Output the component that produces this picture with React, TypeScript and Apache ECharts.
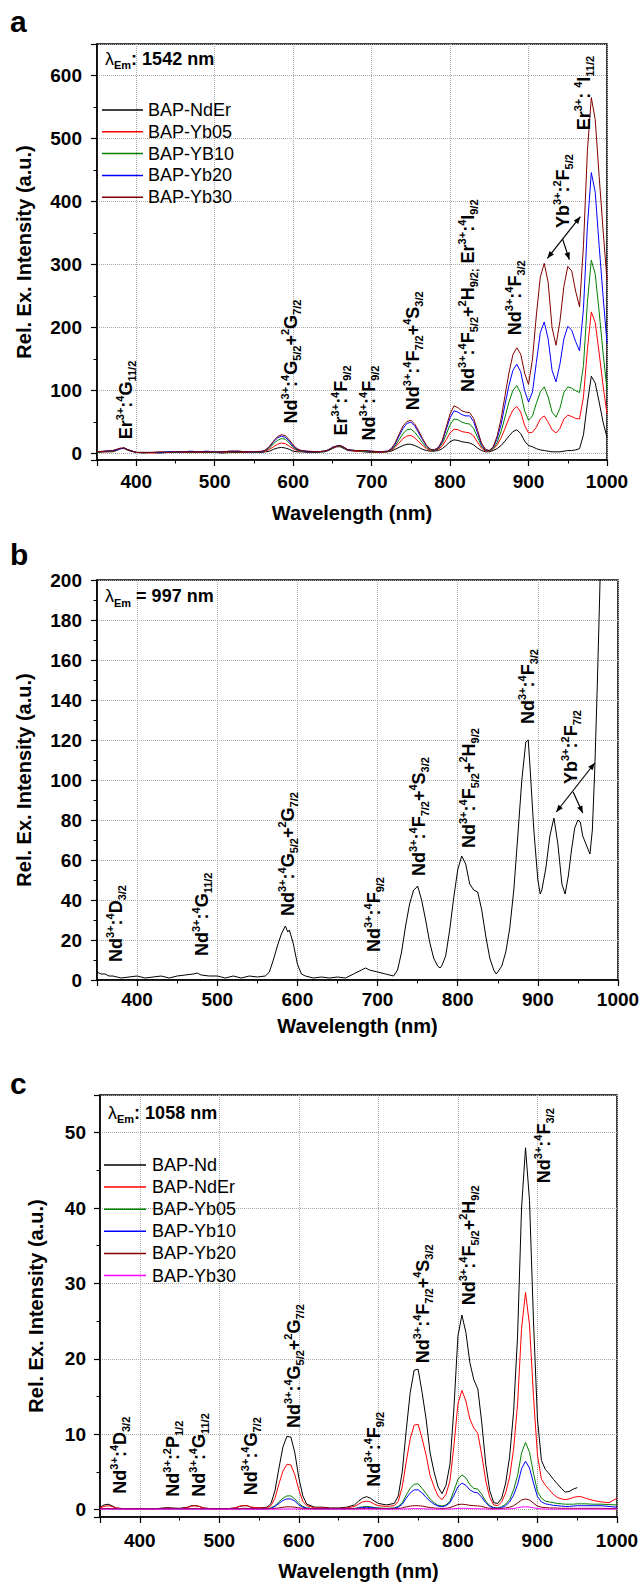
import React, { useEffect, useRef } from 'react';
import * as echarts from 'echarts';

const FONT = "'Liberation Sans', Arial, Helvetica, sans-serif";

// ---------------- Panel a (λEm 1542 nm) ----------------
const WL_A = [
  350, 360, 370, 375, 380, 385, 390,
  400, 410, 420, 430, 440, 450, 460, 470, 480, 490, 500, 510, 520, 530, 540, 550, 560,
  565, 570, 575, 580, 585, 590, 595, 600, 605, 610,
  620, 630, 640, 645, 650, 655, 660, 665, 670, 680, 690, 700, 710, 720,
  725, 730, 735, 740, 745, 750, 755, 760, 765, 770, 775, 780,
  785, 790, 795, 800, 805, 810, 815, 820, 825, 830, 835, 840,
  845, 850, 855, 860, 865, 870, 875, 880, 885, 890, 895, 900,
  905, 910, 915, 920, 925, 930, 935, 940, 945, 950, 955, 960,
  965, 970, 975, 980, 985, 990, 995, 1000,
];
const A_NDER = [
  2, 3, 3, 5, 8, 8, 5,
  2, 1, 2, 1, 2, 2, 2, 2, 2, 2, 2, 1, 2, 2, 2, 2, 2,
  3, 4, 7, 9, 10, 9, 7, 4, 3, 3,
  2, 2, 3, 5, 8, 11, 11, 8, 5, 4, 3, 2, 2, 3,
  4, 7, 10, 13, 15, 15, 13, 10, 7, 5, 4, 4,
  5, 8, 13, 19, 22, 21, 19, 18, 17, 14, 9, 5,
  3, 3, 5, 8, 13, 20, 28, 35, 38, 32, 20, 13,
  11, 8, 6, 5, 4, 3, 3, 3, 4, 5, 5, 6,
  8, 30, 80, 123, 112, 82, 50, 26,
];
const A_YB05 = [
  3, 3, 4, 6, 8, 9, 6,
  2, 2, 1, 2, 2, 3, 2, 3, 2, 3, 2, 2, 3, 3, 2, 2, 3,
  4, 7, 11, 15, 17, 16, 12, 8, 5, 4,
  3, 3, 4, 6, 9, 11, 12, 9, 6, 4, 4, 3, 2, 3,
  5, 10, 17, 24, 28, 29, 25, 19, 13, 8, 5, 5,
  7, 12, 22, 33, 39, 38, 35, 34, 33, 28, 18, 9,
  4, 4, 7, 14, 25, 40, 56, 69, 75, 66, 45, 33,
  34, 42, 55, 60, 50, 38, 33, 40, 55, 61, 59, 56,
  55, 90, 165, 225, 208, 160, 108, 63,
];
const A_YB10 = [
  2, 4, 4, 6, 8, 9, 6,
  2, 2, 2, 2, 3, 2, 3, 3, 3, 3, 2, 3, 3, 3, 3, 2, 3,
  5, 9, 16, 21, 24, 23, 17, 10, 6, 4,
  3, 3, 4, 6, 9, 12, 12, 9, 6, 5, 4, 3, 3, 3,
  6, 12, 22, 32, 38, 39, 34, 26, 17, 10, 6, 5,
  8, 16, 30, 46, 55, 54, 50, 48, 47, 40, 26, 12,
  5, 4, 8, 18, 35, 58, 82, 100, 108, 96, 68, 53,
  60, 80, 98, 106, 90, 66, 58, 72, 97, 106, 104, 100,
  97, 140, 240, 307, 285, 225, 160, 102,
];
const A_YB20 = [
  3, 4, 5, 6, 8, 9, 6,
  2, 2, 2, 2, 3, 3, 3, 4, 3, 4, 3, 3, 4, 4, 3, 3, 3,
  6, 11, 19, 25, 28, 26, 20, 12, 7, 5,
  3, 3, 4, 6, 10, 12, 13, 10, 6, 5, 5, 4, 3, 4,
  7, 15, 28, 40, 48, 50, 44, 33, 22, 12, 7, 6,
  9, 19, 38, 57, 68, 66, 62, 60, 60, 51, 33, 15,
  6, 5, 10, 24, 46, 78, 108, 132, 142, 130, 100, 82,
  98, 145, 192, 209, 182, 132, 114, 142, 182, 202, 196, 178,
  163, 230, 360, 446, 415, 330, 250, 175,
];
const A_YB30 = [
  3, 4, 5, 7, 9, 9, 6,
  2, 2, 2, 3, 2, 3, 3, 3, 3, 3, 3, 3, 4, 4, 3, 3, 4,
  6, 12, 20, 27, 30, 29, 22, 14, 8, 5,
  4, 3, 4, 6, 10, 12, 13, 10, 6, 5, 5, 4, 3, 4,
  8, 17, 31, 44, 51, 53, 47, 36, 24, 13, 7, 6,
  10, 21, 42, 63, 76, 73, 68, 66, 65, 56, 37, 17,
  7, 5, 11, 28, 55, 92, 128, 157, 168, 158, 128, 110,
  150, 220, 280, 302, 272, 200, 172, 210, 265, 297, 290, 258,
  233, 330, 480, 565, 530, 440, 355, 275,
];

// ---------------- Panel b (λEm 997 nm) ----------------
const WL_B = [
  350, 355, 360, 365, 370, 380, 390, 400, 410, 420,
  430, 440, 450, 460, 470, 475, 480, 490, 500, 510,
  520, 530, 540, 550, 560, 565, 570, 575, 580, 585,
  588, 590, 595, 600, 605, 610, 620, 630, 640, 650,
  660, 670, 680, 685, 690, 700, 710, 720, 725, 730,
  735, 740, 745, 748, 750, 755, 760, 765, 770, 775,
  778, 780, 785, 790, 795, 800, 805, 810, 815, 820,
  825, 830, 835, 840, 845, 848, 850, 855, 860, 865,
  870, 875, 880, 885, 888, 890, 895, 900, 903, 905,
  910, 915, 920, 925, 930, 934, 938, 942, 946, 950,
  953, 956, 960, 965, 968, 971, 974, 977, 980, 985,
];
const B_ND = [
  4, 3, 3, 2, 2, 1, 1.5, 2, 1, 1.5,
  2, 1, 2, 2.5, 3, 3.5, 2.5, 2, 2, 1,
  2, 1, 2, 1.5, 2, 4, 10, 17, 23, 27,
  24, 25, 18, 8, 3, 2, 1, 1.5, 1, 1.5,
  1, 3, 5, 6, 5, 4, 3, 2, 5, 14,
  27, 38, 45, 46, 47, 40, 30, 19, 11, 7,
  6, 7, 12, 25, 41, 55, 62, 58, 48, 45,
  44, 35, 22, 11, 5, 3, 4, 7, 14, 26,
  45, 72, 100, 119, 120, 108, 75, 50, 43, 45,
  56, 72, 81, 68, 48, 43, 52, 65, 76, 80,
  79, 72, 68, 63, 75, 105, 145, 190, 240, 320,
];

// ---------------- Panel c (λEm 1058 nm) ----------------
const WL_C = [
  350, 355, 360, 365, 370, 380, 390, 400, 410, 420,
  430, 435, 440, 450, 460, 465, 470, 475, 480, 490,
  500, 510, 520, 525, 530, 535, 540, 550, 560, 565,
  570, 575, 580, 585, 590, 595, 600, 605, 610, 620,
  630, 640, 650, 660, 670, 675, 680, 685, 690, 695,
  700, 710, 720, 725, 730, 735, 740, 745, 750, 755,
  760, 765, 770, 775, 780, 785, 790, 795, 800, 805,
  810, 815, 820, 825, 830, 835, 840, 845, 850, 855,
  860, 865, 870, 875, 880, 885, 890, 895, 900, 905,
  910, 915, 920, 925, 930, 935, 940, 945, 950, 955,
  960, 970, 980, 990, 1000,
];
const C_ND = [
  0.3, 0.6, 0.7, 0.5, 0.2, 0.1, 0.1, 0.1, 0.1, 0.1,
  0.2, 0.25, 0.2, 0.15, 0.3, 0.5, 0.5, 0.4, 0.2, 0.1,
  0.1, 0.1, 0.2, 0.4, 0.5, 0.5, 0.3, 0.2, 0.3, 0.8,
  2.5, 5.5, 8.3, 9.7, 9.6, 7.5, 4.2, 1.8, 0.7, 0.3,
  0.3, 0.2, 0.2, 0.3, 0.6, 1.1, 1.5, 1.7, 1.5, 1.1,
  0.8, 0.6, 0.8, 1.8, 5, 10.5, 15.5, 18.5, 18.6, 15.5,
  12, 7.5, 5, 3, 2.1, 3.2, 6, 13.5, 23, 25.8,
  23.5, 19.5, 17.2, 16, 11.5, 6, 2.5, 0.9, 0.8, 1.5,
  3.5, 7, 13, 23, 40, 48, 41, 25, 12, 6.5,
  5.3, 4.7, 4, 3.4, 2.8, 2.3, 2.4, 2.7, 2.9, null,
  null, null, null, null, null,
];
const C_NDER = [
  0.2, 0.4, 0.5, 0.4, 0.2, 0.1, 0.1, 0.1, 0.1, 0.1,
  0.15, 0.2, 0.15, 0.1, 0.25, 0.45, 0.5, 0.4, 0.2, 0.1,
  0.1, 0.1, 0.2, 0.4, 0.5, 0.5, 0.3, 0.2, 0.2, 0.5,
  1.5, 3.4, 5.1, 6.0, 5.9, 4.6, 2.6, 1.1, 0.5, 0.2,
  0.2, 0.15, 0.15, 0.2, 0.4, 0.7, 1.0, 1.1, 1.0, 0.7,
  0.5, 0.4, 0.5, 1.1, 3, 6.3, 9.4, 11.2, 11.3, 9.4,
  7.2, 4.5, 3, 1.8, 1.3, 2, 3.8, 8.5, 14, 15.8,
  14.4, 12, 10.8, 10.1, 7.2, 3.8, 1.6, 0.6, 0.5, 1,
  2.2, 4.3, 8, 14, 24, 28.8, 24.5, 15, 7.2, 4,
  3.2, 2.6, 2.0, 1.6, 1.4, 1.3, 1.4, 1.6, 1.7, 1.7,
  1.5, 1.2, 1.0, 0.9, 1.5,
];
const C_YB05 = [
  0.1, 0.1, 0.15, 0.1, 0.1, 0.1, 0.1, 0.1, 0.1, 0.1,
  0.1, 0.1, 0.1, 0.1, 0.1, 0.1, 0.15, 0.1, 0.1, 0.1,
  0.1, 0.1, 0.1, 0.1, 0.15, 0.15, 0.1, 0.1, 0.1, 0.2,
  0.5, 1.0, 1.5, 1.8, 1.8, 1.4, 0.8, 0.4, 0.2, 0.1,
  0.1, 0.1, 0.1, 0.1, 0.15, 0.25, 0.35, 0.4, 0.35, 0.25,
  0.2, 0.15, 0.2, 0.4, 0.9, 1.9, 2.8, 3.35, 3.4, 2.8,
  2.1, 1.4, 0.9, 0.55, 0.45, 0.6, 1.1, 2.5, 4.0, 4.6,
  4.2, 3.3, 2.8, 2.7, 2.0, 1.1, 0.5, 0.25, 0.2, 0.35,
  0.7, 1.3, 2.6, 4.5, 7.5, 8.9, 7.6, 4.8, 2.4, 1.5,
  1.1, 1.0, 0.9, 0.8, 0.75, 0.7, 0.7, 0.7, 0.75, 0.75,
  0.75, 0.7, 0.7, 0.65, 0.6,
];
const C_YB10 = [
  0.1, 0.1, 0.1, 0.1, 0.1, 0.1, 0.1, 0.1, 0.1, 0.1,
  0.1, 0.1, 0.1, 0.1, 0.1, 0.1, 0.1, 0.1, 0.1, 0.1,
  0.1, 0.1, 0.1, 0.1, 0.1, 0.1, 0.1, 0.1, 0.1, 0.15,
  0.4, 0.8, 1.2, 1.4, 1.4, 1.1, 0.6, 0.3, 0.15, 0.1,
  0.1, 0.1, 0.1, 0.1, 0.1, 0.2, 0.25, 0.3, 0.25, 0.2,
  0.15, 0.1, 0.15, 0.3, 0.7, 1.5, 2.2, 2.6, 2.6, 2.2,
  1.6, 1.1, 0.7, 0.45, 0.35, 0.5, 0.9, 1.9, 3.0, 3.5,
  3.2, 2.6, 2.3, 2.2, 1.6, 0.9, 0.4, 0.2, 0.15, 0.25,
  0.5, 1.0, 1.9, 3.3, 5.4, 6.4, 5.5, 3.5, 1.7, 1.0,
  0.75, 0.65, 0.55, 0.5, 0.45, 0.4, 0.4, 0.45, 0.5, 0.5,
  0.5, 0.5, 0.5, 0.4, 0.3,
];
const C_YB20 = [
  0.1, 0.1, 0.1, 0.1, 0.1, 0.1, 0.1, 0.1, 0.1, 0.1,
  0.1, 0.1, 0.1, 0.1, 0.1, 0.1, 0.1, 0.1, 0.1, 0.1,
  0.1, 0.1, 0.1, 0.1, 0.1, 0.1, 0.1, 0.1, 0.1, 0.1,
  0.15, 0.2, 0.3, 0.35, 0.35, 0.3, 0.2, 0.15, 0.1, 0.1,
  0.1, 0.1, 0.1, 0.1, 0.1, 0.1, 0.12, 0.15, 0.12, 0.1,
  0.1, 0.1, 0.1, 0.12, 0.2, 0.35, 0.45, 0.5, 0.5, 0.45,
  0.35, 0.25, 0.2, 0.15, 0.12, 0.15, 0.25, 0.45, 0.65, 0.7,
  0.65, 0.55, 0.5, 0.48, 0.4, 0.25, 0.15, 0.1, 0.1, 0.12,
  0.2, 0.3, 0.5, 0.85, 1.25, 1.4, 1.25, 0.85, 0.45, 0.3,
  0.25, 0.2, 0.2, 0.18, 0.15, 0.15, 0.15, 0.15, 0.15, 0.15,
  0.15, 0.15, 0.15, 0.12, 0.12,
];
const C_YB30 = [
  0.05, 0.05, 0.05, 0.05, 0.05, 0.05, 0.05, 0.05, 0.05, 0.05,
  0.05, 0.05, 0.05, 0.05, 0.05, 0.05, 0.05, 0.05, 0.05, 0.05,
  0.05, 0.05, 0.05, 0.05, 0.05, 0.05, 0.05, 0.05, 0.05, 0.05,
  0.05, 0.05, 0.06, 0.07, 0.07, 0.06, 0.05, 0.05, 0.05, 0.05,
  0.05, 0.05, 0.05, 0.05, 0.05, 0.05, 0.05, 0.05, 0.05, 0.05,
  0.05, 0.05, 0.05, 0.05, 0.06, 0.08, 0.1, 0.11, 0.11, 0.1,
  0.08, 0.06, 0.05, 0.05, 0.05, 0.05, 0.06, 0.1, 0.14, 0.15,
  0.14, 0.12, 0.11, 0.1, 0.08, 0.06, 0.05, 0.05, 0.05, 0.05,
  0.06, 0.08, 0.12, 0.22, 0.32, 0.36, 0.32, 0.22, 0.12, 0.08,
  0.06, 0.05, 0.05, 0.05, 0.05, 0.05, 0.05, 0.05, 0.05, 0.05,
  0.05, 0.05, 0.05, 0.05, 0.05,
];

// legends / titles / annotations (text + data anchor [wavelength, intensity])
const LEGEND_A = ['BAP-NdEr', 'BAP-Yb05', 'BAP-YB10', 'BAP-Yb20', 'BAP-Yb30'];
const LEGEND_C = ['BAP-Nd', 'BAP-NdEr', 'BAP-Yb05', 'BAP-Yb10', 'BAP-Yb20', 'BAP-Yb30'];
const TITLES = [': 1542 nm', ' = 997 nm', ': 1058 nm'];
const PANEL_LETTERS = ['a', 'b', 'c'];

const LABELS_A: [string, number, number][] = [
  ['Er^{3+}:^{4}G_{11/2}', 387, 23],
  ['Nd^{3+}:^{4}G_{5/2}+^{2}G_{7/2}', 597, 48],
  ['Er^{3+}:^{4}F_{9/2}', 661, 29],
  ['Nd^{3+}:^{4}F_{9/2}', 697, 21],
  ['Nd^{3+}:^{4}F_{7/2}+^{4}S_{3/2}', 753, 69],
  ['Nd^{3+}:^{4}F_{5/2}+^{2}H_{9/2;} Er^{3+}:^{4}I_{9/2}', 823, 98],
  ['Nd^{3+}:^{4}F_{3/2}', 883, 188],
  ['Yb^{3+}:^{2}F_{5/2}', 944, 358],
  ['Er^{3+}: ^{4}I_{11/2}', 971, 513],
];
const LABELS_B: [string, number, number][] = [
  ['Nd^{3+}:^{4}D_{3/2}', 374, 9],
  ['Nd^{3+}:^{4}G_{11/2}', 481, 12],
  ['Nd^{3+}:^{4}G_{5/2}+^{2}G_{7/2}', 588, 32],
  ['Nd^{3+}:^{4}F_{9/2}', 696, 14],
  ['Nd^{3+}:^{4}F_{7/2}+^{4}S_{3/2}', 752, 52],
  ['Nd^{3+}:^{4}F_{5/2}+^{2}H_{9/2}', 814, 66],
  ['Nd^{3+}:^{4}F_{3/2}', 888, 128],
  ['Yb^{3+}:^{2}F_{7/2}', 941, 98],
];
const LABELS_C: [string, number, number][] = [
  ['Nd^{3+}:^{4}D_{3/2}', 375, 2.1],
  ['Nd^{3+}:^{2}P_{1/2}', 442, 1.7],
  ['Nd^{3+}:^{4}G_{11/2}', 475, 1.7],
  ['Nd^{3+}:^{4}G_{7/2}', 540, 1.9],
  ['Nd^{3+}:^{4}G_{5/2}+^{2}G_{7/2}', 594, 10.8],
  ['Nd^{3+}:^{4}F_{9/2}', 695, 3.0],
  ['Nd^{3+}:^{4}F_{7/2}+^{4}S_{3/2}', 756, 19.4],
  ['Nd^{3+}:^{4}F_{5/2}+^{2}H_{9/2}', 814, 27.1],
  ['Nd^{3+}:^{4}F_{3/2}', 908, 43.3],
];
const ARROW_A = { A: [924, 310], C: [966, 376], J: [943.5, 340], B: [952, 308] };
const ARROW_B = { A: [923, 84], C: [971, 108.5], J: [944, 94], B: [956, 83.5] };

const GRIDS = [
  { left: 97, top: 44, width: 510, height: 416 },
  { left: 97, top: 580, width: 521, height: 400 },
  { left: 100, top: 1095, width: 517, height: 422 },
];

function toRich(s: string) {
  let out = '';
  let buf = '';
  let i = 0;
  const flush = () => {
    if (buf) { out += `{m|${buf}}`; buf = ''; }
  };
  while (i < s.length) {
    const c = s[i];
    if ((c === '^' || c === '_') && s[i + 1] === '{') {
      flush();
      const end = s.indexOf('}', i + 2);
      out += `{${c === '^' ? 'p' : 's'}|${s.slice(i + 2, end)}}`;
      i = end + 1;
    } else {
      buf += c;
      i++;
    }
  }
  flush();
  return out;
}

const RICH = {
  m: { fontSize: 18, fontWeight: 'bold', fontFamily: FONT, lineHeight: 23, fill: '#000' },
  p: { fontSize: 11, fontWeight: 'bold', fontFamily: FONT, lineHeight: 12, verticalAlign: 'top', fill: '#000' },
  s: { fontSize: 11, fontWeight: 'bold', fontFamily: FONT, lineHeight: 12, verticalAlign: 'bottom', fill: '#000' },
};

function pairs(wl: number[], v: (number | null)[]) {
  const out: number[][] = [];
  wl.forEach((w, i) => {
    const y = v[i];
    if (y !== null && y !== undefined) out.push([w, y]);
  });
  return out;
}

function makeX(gi: number, margin: number, nameGap: number) {
  return {
    type: 'value', gridIndex: gi, min: 350, max: 1000,
    axisLine: { show: true, onZero: false, lineStyle: { color: '#000', width: 1.5 } },
    axisTick: { show: true, length: 6, lineStyle: { color: '#000', width: 1.2 } },
    minorTick: { show: true, splitNumber: 2, length: 3.5, lineStyle: { color: '#000', width: 1 } },
    axisLabel: {
      color: '#000', fontSize: 19, fontWeight: 'bold', fontFamily: FONT, margin,
      showMinLabel: false,
      formatter: (v: number) => (v % 100 === 0 ? String(v) : ''),
    },
    splitLine: { show: true, lineStyle: { color: '#aaa', type: 'dotted', width: 1 } },
    name: 'Wavelength (nm)', nameLocation: 'middle', nameGap,
    nameTextStyle: { fontSize: 20, fontWeight: 'bold', color: '#000', fontFamily: FONT },
  };
}

function makeY(gi: number, extra: any, step: number, nameGap: number, margin: number) {
  return {
    type: 'value', gridIndex: gi, ...extra,
    axisLine: { show: true, onZero: false, lineStyle: { color: '#000', width: 1.5 } },
    axisTick: { show: true, length: 6, lineStyle: { color: '#000', width: 1.2 } },
    minorTick: { show: true, splitNumber: 2, length: 3.5, lineStyle: { color: '#000', width: 1 } },
    axisLabel: {
      color: '#000', fontSize: 19, fontWeight: 'bold', fontFamily: FONT, margin,
      formatter: (v: number) => (Math.abs(v % step) < 1e-9 ? String(v) : ''),
    },
    splitLine: { show: true, lineStyle: { color: '#aaa', type: 'dotted', width: 1 } },
    name: 'Rel. Ex. Intensity (a.u.)', nameLocation: 'middle', nameGap,
    nameTextStyle: { fontSize: 20, fontWeight: 'bold', color: '#000', fontFamily: FONT },
  };
}

function line(name: string, gi: number, wl: number[], v: (number | null)[], color: string) {
  return {
    type: 'line', name, xAxisIndex: gi, yAxisIndex: gi,
    data: pairs(wl, v), showSymbol: false, symbol: 'none', clip: true,
    lineStyle: { color, width: 1 }, itemStyle: { color },
  };
}

const COL = {
  black: '#000000', red: '#ff0000', green: '#008000', blue: '#0000ff', dred: '#800000', mag: '#ff00ff',
};

export default function App() {
  const ref = useRef<HTMLDivElement>(null);
  useEffect(() => {
    if (!ref.current) return;
    const chart = echarts.init(ref.current, null, { renderer: 'svg' });
    chart.setOption({
      animation: false,
      backgroundColor: '#fff',
      textStyle: { fontFamily: FONT },
      grid: GRIDS.map((g) => ({ ...g, show: true, borderColor: '#000', borderWidth: 1.5, containLabel: false })),
      xAxis: [makeX(0, 12, 43), makeX(1, 10, 36), makeX(2, 14, 44)],
      yAxis: [
        makeY(0, { min: -10, max: 650, splitNumber: 5 }, 100, 63, 15),
        makeY(1, { min: 0, max: 200, interval: 20 }, 20, 63, 15),
        makeY(2, { min: -1, max: 55, splitNumber: 5 }, 10, 54, 14),
      ],
      series: [
        line('BAP-NdEr', 0, WL_A, A_NDER, COL.black),
        line('BAP-Yb05', 0, WL_A, A_YB05, COL.red),
        line('BAP-YB10', 0, WL_A, A_YB10, COL.green),
        line('BAP-Yb20', 0, WL_A, A_YB20, COL.blue),
        line('BAP-Yb30', 0, WL_A, A_YB30, COL.dred),
        line('BAP-NdEr (997 nm)', 1, WL_B, B_ND, COL.black),
        line('BAP-Nd', 2, WL_C, C_ND, COL.black),
        line('BAP-NdEr', 2, WL_C, C_NDER, COL.red),
        line('BAP-Yb05', 2, WL_C, C_YB05, COL.green),
        line('BAP-Yb10', 2, WL_C, C_YB10, COL.blue),
        line('BAP-Yb20', 2, WL_C, C_YB20, COL.dred),
        line('BAP-Yb30', 2, WL_C, C_YB30, COL.mag),
      ],
    });

    const P = (gi: number, x: number, y: number) =>
      chart.convertToPixel({ gridIndex: gi } as any, [x, y]) as unknown as number[];

    const els: any[] = [];
    const letterY = [21.5, 554.5, 1083.5];
    PANEL_LETTERS.forEach((t, i) => {
      els.push({
        type: 'text', x: 10, y: letterY[i], z: 100,
        style: { text: t, font: `bold 30px ${FONT}`, fill: '#000', align: 'left', verticalAlign: 'middle' },
      });
    });
    const titleDy = [14.5, 16, 17.5];
    TITLES.forEach((t, i) => {
      const g = GRIDS[i];
      els.push({
        type: 'text', x: g.left + 8, y: g.top + titleDy[i], z: 100,
        style: {
          text: `{l|λ}{e|Em}{t|${t}}`,
          align: 'left', verticalAlign: 'middle', fill: '#000',
          rich: {
            l: { fontSize: 18, fontFamily: FONT, lineHeight: 24, fill: '#000' },
            e: { fontSize: 11, fontWeight: 'bold', fontFamily: FONT, lineHeight: 12, verticalAlign: 'bottom', fill: '#000' },
            t: { fontSize: 18, fontWeight: 'bold', fontFamily: FONT, lineHeight: 24, fill: '#000' },
          },
        },
      });
    });
    const legA = [COL.black, COL.red, COL.green, COL.blue, COL.dred];
    LEGEND_A.forEach((name, i) => {
      const g = GRIDS[0];
      const y = g.top + 66 + i * 21.8;
      els.push({ type: 'line', z: 100, shape: { x1: g.left + 5, y1: y, x2: g.left + 46, y2: y }, style: { stroke: legA[i], lineWidth: 1.5 } });
      els.push({ type: 'text', z: 100, x: g.left + 51, y, style: { text: name, font: `18px ${FONT}`, fill: '#000', align: 'left', verticalAlign: 'middle' } });
    });
    const legC = [COL.black, COL.red, COL.green, COL.blue, COL.dred, COL.mag];
    LEGEND_C.forEach((name, i) => {
      const g = GRIDS[2];
      const y = g.top + 70 + i * 22.1;
      els.push({ type: 'line', z: 100, shape: { x1: g.left + 4, y1: y, x2: g.left + 46, y2: y }, style: { stroke: legC[i], lineWidth: 1.5 } });
      els.push({ type: 'text', z: 100, x: g.left + 52, y, style: { text: name, font: `18px ${FONT}`, fill: '#000', align: 'left', verticalAlign: 'middle' } });
    });
    [LABELS_A, LABELS_B, LABELS_C].forEach((list, gi) => {
      list.forEach(([txt, wx, wy]) => {
        const [x, y] = P(gi, wx, wy);
        els.push({
          type: 'text', x, y, rotation: Math.PI / 2, z: 100,
          style: { text: toRich(txt), rich: RICH, align: 'left', verticalAlign: 'middle', fill: '#000' },
        });
      });
    });
    const head = (tip: number[], from: number[]) => {
      const dx = tip[0] - from[0];
      const dy = tip[1] - from[1];
      const L = Math.hypot(dx, dy) || 1;
      const ux = dx / L, uy = dy / L;
      const bx = tip[0] - ux * 7, by = tip[1] - uy * 7;
      return {
        type: 'polygon', z: 100,
        shape: { points: [[tip[0], tip[1]], [bx - uy * 2.8, by + ux * 2.8], [bx + uy * 2.8, by - ux * 2.8]] },
        style: { fill: '#000' },
      };
    };
    [ARROW_A, ARROW_B].forEach((ar, gi) => {
      const a = P(gi, ar.A[0], ar.A[1]);
      const c = P(gi, ar.C[0], ar.C[1]);
      const j = P(gi, ar.J[0], ar.J[1]);
      const b = P(gi, ar.B[0], ar.B[1]);
      els.push({ type: 'line', z: 100, shape: { x1: a[0], y1: a[1], x2: c[0], y2: c[1] }, style: { stroke: '#000', lineWidth: 1.2 } });
      els.push({ type: 'line', z: 100, shape: { x1: j[0], y1: j[1], x2: b[0], y2: b[1] }, style: { stroke: '#000', lineWidth: 1.2 } });
      els.push(head(a, c));
      els.push(head(c, a));
      els.push(head(b, j));
    });

    chart.setOption({ graphic: els });
    return () => chart.dispose();
  }, []);

  return (
    <div
      ref={ref}
      style={{ position: 'absolute', left: 0, top: 0, width: 644, height: 1585, background: '#fff' }}
    />
  );
}
